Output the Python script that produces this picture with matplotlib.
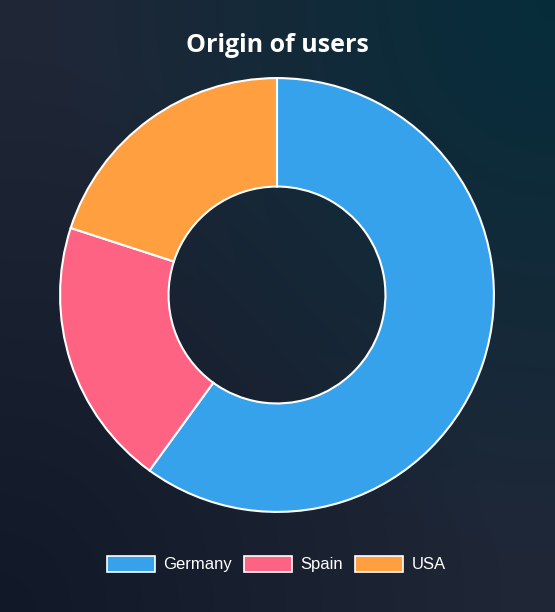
import numpy as np
import matplotlib
matplotlib.use("Agg")
import matplotlib.pyplot as plt
from matplotlib.patches import Patch
from matplotlib.colors import to_rgb

# data
countries = ["Germany", "Spain", "USA"]
users = [60, 20, 20]
colors = ["#36a2eb", "#ff6384", "#ff9f40"]
title = "Origin of users"

W, H = 555, 612
fig = plt.figure(figsize=(W / 100, H / 100), dpi=100)

# background gradient: dark slate, teal glow top-right, darker bottom-left
bg = fig.add_axes([0, 0, 1, 1], zorder=-10)
yy, xx = np.mgrid[0:H, 0:W]
base = np.array(to_rgb("#1f2737"))
teal = np.array(to_rgb("#062d3b"))
dark = np.array(to_rgb("#111827"))
d_tr = np.hypot((xx - W) / W, yy / H)
d_bl = np.hypot(xx / W, (H - yy) / H)
w_tr = np.clip(1 - d_tr / 0.9, 0, 1)[..., None]
w_bl = np.clip(1 - d_bl / 0.9, 0, 1)[..., None]
img = base * (1 - w_tr - w_bl).clip(0, 1) + teal * w_tr + dark * w_bl
bg.imshow(img.clip(0, 1), aspect="auto", extent=[0, 1, 0, 1], origin="upper")
bg.axis("off")

cx, cy, r = 277, 295, 218
ax = fig.add_axes([(cx - r) / W, (H - cy - r) / H, 2 * r / W, 2 * r / H])
ax.pie(users, colors=colors, startangle=90, counterclock=False,
       wedgeprops=dict(width=0.5, edgecolor="white", linewidth=1.5))
ax.set_xlim(-1.005, 1.005)
ax.set_ylim(-1.005, 1.005)
ax.set_aspect("equal")
ax.axis("off")

fig.text(cx / W, 1 - 45 / H, title, ha="center", va="center", color="white",
         fontsize=18, fontweight="bold", family="Open Sans")

handles = [Patch(facecolor=c, edgecolor="white", linewidth=1.2) for c in colors]
leg = fig.legend(handles, countries, loc="center", bbox_to_anchor=(276 / W, 1 - 564 / H),
                 ncol=3, frameon=False, handlelength=2.9, handleheight=1.1,
                 handletextpad=0.5, columnspacing=0.7,
                 prop=dict(family="Liberation Sans", size=12))
for t in leg.get_texts():
    t.set_color("white")

fig.savefig("out.png", dpi=100)
